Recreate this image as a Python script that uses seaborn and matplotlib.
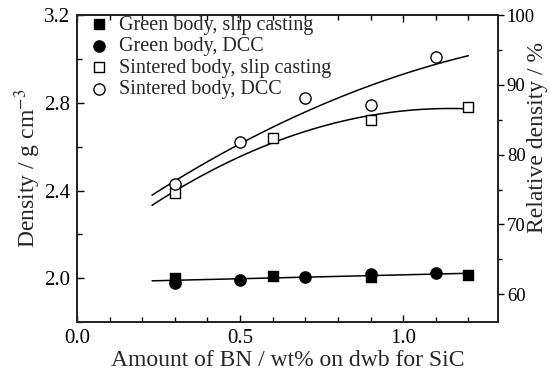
import numpy as np
import pandas as pd
import matplotlib
matplotlib.use("Agg")
import matplotlib.pyplot as plt
from matplotlib.ticker import MultipleLocator
import seaborn as sns

# BN content (wt% on dry weight basis of SiC)
bn_slip = [0.3, 0.6, 0.9, 1.2]
bn_dcc = [0.3, 0.5, 0.7, 0.9, 1.1]

# Densities, g cm^-3
green_slip = [2.00, 2.01, 2.005, 2.015]
green_dcc = [1.98, 1.99, 2.005, 2.02, 2.025]
sint_slip = [2.39, 2.64, 2.72, 2.78]
sint_dcc = [2.43, 2.62, 2.82, 2.79, 3.01]

series_names = [
    "Green body, slip casting",
    "Green body, DCC",
    "Sintered body, slip casting",
    "Sintered body, DCC",
]

x_ticks = [0.0, 0.5, 1.0]
y_ticks = [2.0, 2.4, 2.8, 3.2]
rel_ticks = [60, 70, 80, 90, 100]

sns.set_style("ticks")
plt.rcParams["font.family"] = ["Liberation Serif", "DejaVu Serif"]
plt.rcParams["mathtext.fontset"] = "stix"

frames = []
for name, xs, ys in zip(series_names,
                        [bn_slip, bn_dcc, bn_slip, bn_dcc],
                        [green_slip, green_dcc, sint_slip, sint_dcc]):
    frames.append(pd.DataFrame({"bn": xs, "density": ys, "series": name}))
df = pd.concat(frames, ignore_index=True)

fig = plt.figure(figsize=(5.5, 3.78), dpi=100)
ax = fig.add_axes([0.14, 0.148, 0.765, 0.812])

# fitted trend lines
xf = np.linspace(0.23, 1.2, 100)
green_x = np.array(bn_slip + bn_dcc)
green_y = np.array(green_slip + green_dcc)
fits = [
    np.polyfit(green_x, green_y, 1),
    np.polyfit(bn_slip, sint_slip, 2),
    np.polyfit(bn_dcc, sint_dcc, 2),
]
for coef in fits:
    sns.lineplot(x=xf, y=np.polyval(coef, xf), ax=ax, color="black",
                 linewidth=1.1, legend=False)

styles = {
    series_names[0]: dict(marker="s", facecolor="black", s=50),
    series_names[1]: dict(marker="o", facecolor="black", s=65),
    series_names[2]: dict(marker="s", facecolor="white", s=50),
    series_names[3]: dict(marker="o", facecolor="white", s=65),
}
for name in series_names:
    st = styles[name]
    sub = df[df["series"] == name]
    sns.scatterplot(data=sub, x="bn", y="density", ax=ax, marker=st["marker"],
                    s=st["s"], color=st["facecolor"], edgecolor="black",
                    linewidth=1.0, label=name, zorder=3)

ax.set_xlim(0.0, 1.29)
ax.set_ylim(1.8, 3.2)
ax.set_xticks(x_ticks)
ax.set_xticklabels([f"{v:.1f}" for v in x_ticks])
ax.set_yticks(y_ticks)
ax.set_yticklabels([f"{v:.1f}" for v in y_ticks])
ax.xaxis.set_minor_locator(MultipleLocator(0.1))
ax.yaxis.set_minor_locator(MultipleLocator(0.2))
ax.tick_params(axis="both", which="both", direction="in", top=True,
               right=False, labelsize=15, width=1.0, colors="black")
ax.tick_params(axis="both", which="major", length=5, pad=5)
ax.tick_params(axis="both", which="minor", length=3.5)
for sp in ax.spines.values():
    sp.set_visible(True)
    sp.set_linewidth(1.4)
    sp.set_color("black")

ax.set_xlabel("Amount of BN / wt% on dwb for SiC", fontsize=17)
ax.xaxis.set_label_coords(0.5, -0.09)
ax.set_ylabel("Density / g cm$^{-3}$", fontsize=17)
ax.yaxis.set_label_coords(-0.08, 0.5)

ax2 = ax.twinx()
ax2.set_ylim(56.0, 100.0)
ax2.set_yticks(rel_ticks)
ax2.yaxis.set_minor_locator(MultipleLocator(5))
ax2.tick_params(axis="y", which="both", direction="out", labelsize=13.5,
                width=1.0, colors="black", pad=2)
ax2.tick_params(axis="y", which="major", length=4.5)
ax2.tick_params(axis="y", which="minor", length=3)
ax2.set_ylabel("Relative density / %", fontsize=17)
ax2.yaxis.set_label_coords(1.07, 0.6)
for sp in ax2.spines.values():
    sp.set_linewidth(1.4)

leg = ax.legend(loc="upper left", frameon=False, fontsize=14.5,
                handletextpad=0.5, labelspacing=0.12, borderaxespad=0.0,
                handlelength=1.0, bbox_to_anchor=(0.01, 1.025))

fig.savefig("out.png", dpi=100)
